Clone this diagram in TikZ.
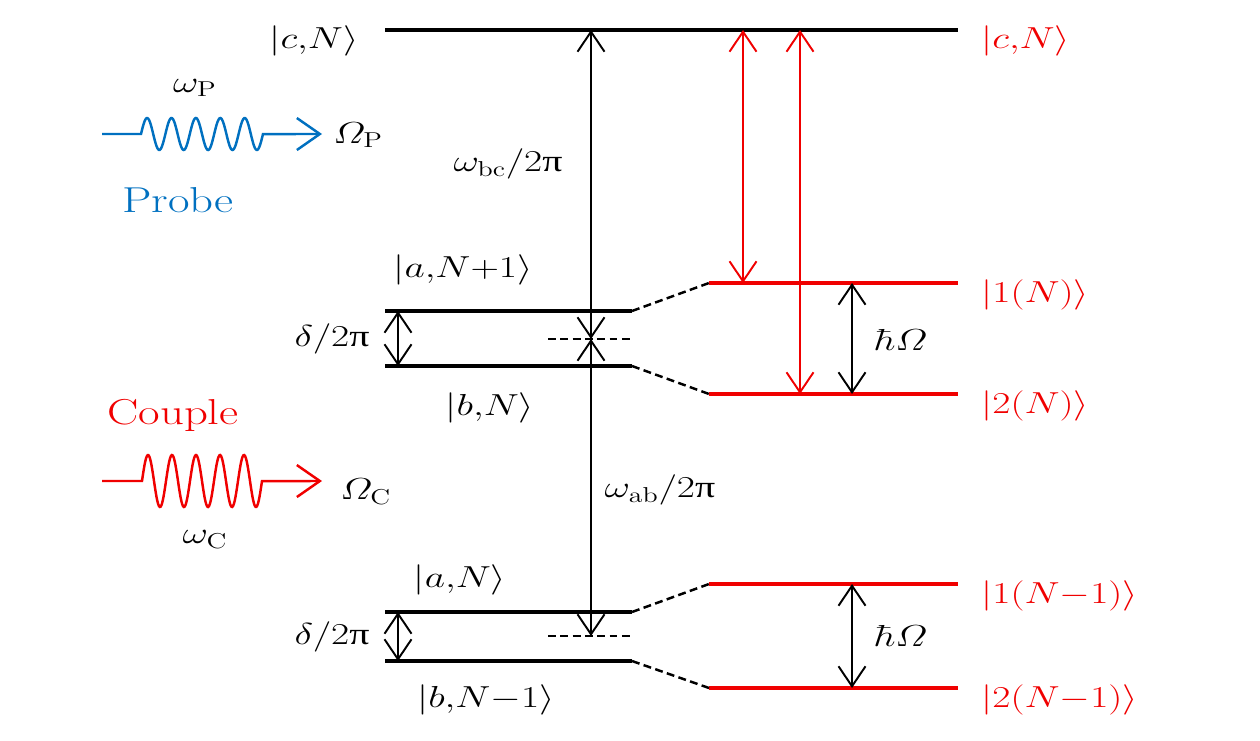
\documentclass[tikz,border=0pt]{standalone}
\usepackage{amsmath}
\usepackage{fontspec}
\newfontfamily\pifont{Liberation Serif}
\usetikzlibrary{arrows.meta}
\definecolor{probeblue}{RGB}{0,112,192}
\definecolor{levelred}{RGB}{240,0,0}
\newcommand{\upi}{\text{\pifont π}}
\begin{document}
\begin{tikzpicture}[x=0.02cm,y=-0.02cm,
  level/.style={line width=2.8pt},
  redlevel/.style={level,draw=levelred},
  link/.style={line width=1.4pt,dash pattern=on 4.5pt off 2.5pt},
  trans/.style={line width=1.1pt,<->,>={Straight Barb[length=4mm,width=5.4mm]}},
  wave/.style={line width=1.4pt,->,>={Straight Barb[length=4.6mm,width=6.4mm]}},
  lbl/.style={inner sep=0pt,font=\fontsize{17.5}{21}\selectfont,xscale=1.3,transform shape},
  fieldname/.style={lbl,font=\fontsize{20.5}{24}\selectfont}]
\useasboundingbox (0,0) rectangle (1260,740);
% level ends
\coordinate (cL) at (385,30);   \coordinate (cR) at (958,30);
\coordinate (aN1L) at (385,311); \coordinate (aN1R) at (632,311);
\coordinate (bNL) at (385,366);  \coordinate (bNR) at (632,366);
\coordinate (m1L) at (548,339);  \coordinate (m1R) at (632,339);
\coordinate (aNL) at (385,612);  \coordinate (aNR) at (632,612);
\coordinate (bN1L) at (385,661); \coordinate (bN1R) at (632,661);
\coordinate (m2L) at (548,636);  \coordinate (m2R) at (632,636);
\coordinate (p1L) at (709,283);  \coordinate (p1R) at (958,283);
\coordinate (p2L) at (709,394);  \coordinate (p2R) at (958,394);
\coordinate (q1L) at (709,584);  \coordinate (q1R) at (958,584);
\coordinate (q2L) at (709,688);  \coordinate (q2R) at (958,688);
% arrow columns
\coordinate (xw) at (591,0);  \coordinate (xd) at (398,0);
\coordinate (xh) at (852,0);  \coordinate (xr1) at (743,0);
\coordinate (xr2) at (800,0);
% levels
\draw[level] (cL) -- (cR);
\draw[level] (aN1L) -- (aN1R);
\draw[level] (bNL) -- (bNR);
\draw[level] (aNL) -- (aNR);
\draw[level] (bN1L) -- (bN1R);
\draw[redlevel] (p1L) -- (p1R);
\draw[redlevel] (p2L) -- (p2R);
\draw[redlevel] (q1L) -- (q1R);
\draw[redlevel] (q2L) -- (q2R);
\draw[link] (m1L) -- (m1R);
\draw[link] (m2L) -- (m2R);
\draw[link] (aN1R) -- (p1L);
\draw[link] (bNR) -- (p2L);
\draw[link] (aNR) -- (q1L);
\draw[link] (bN1R) -- (q2L);
% transitions
\draw[trans] (xw |- cL) -- (xw |- m1L);
\draw[trans] (xw |- m1L) -- (xw |- m2L);
\draw[trans] (xd |- aN1L) -- (xd |- bNL);
\draw[trans] (xd |- aNL) -- (xd |- bN1L);
\draw[trans] (xh |- p1L) -- (xh |- p2L);
\draw[trans] (xh |- q1L) -- (xh |- q2L);
\draw[trans,levelred] (xr1 |- cL) -- (xr1 |- p1L);
\draw[trans,levelred] (xr2 |- cL) -- (xr2 |- p2L);
% labels
\node[lbl] (lcN) at (314,41) {$|c{,}N\rangle$};
\node[lbl,text=levelred,anchor=west] (rcN) at (981,41) {$|c{,}N\rangle$};
\node[lbl] (wbc) at (508,164) {$\omega_{\mathrm{bc}}/2\upi$};
\node[lbl] (laN1) at (463,270) {$|a{,}N{+}1\rangle$};
\node[lbl] (del1) at (332,339) {$\delta/2\upi$};
\node[lbl] (lbN) at (490,408) {$|b{,}N\rangle$};
\node[lbl] (wab) at (660,490) {$\omega_{\mathrm{ab}}/2\upi$};
\node[lbl] (laN) at (460,580) {$|a{,}N\rangle$};
\node[lbl] (del2) at (332,637) {$\delta/2\upi$};
\node[lbl] (lbN1) at (486,700) {$|b{,}N{-}1\rangle$};
\node[lbl,text=levelred,anchor=west] (l1N) at (981,295) {$|1(N)\rangle$};
\node[lbl,text=levelred,anchor=west] (l2N) at (981,406) {$|2(N)\rangle$};
\node[lbl,text=levelred,anchor=west] (l1N1) at (981,596) {$|1(N{-}1)\rangle$};
\node[lbl,text=levelred,anchor=west] (l2N1) at (981,700) {$|2(N{-}1)\rangle$};
\node[lbl] (hO1) at (901,340) {$\hbar\varOmega$};
\node[lbl] (hO2) at (901,636) {$\hbar\varOmega$};
% probe field
\node[lbl] (wP) at (195,88) {$\omega_{\mathrm{P}}$};
\node[lbl,anchor=west] (OP) at (333,135) {$\varOmega_{\mathrm{P}}$};
\node[fieldname,text=probeblue] (probe) at (178,200) {Probe};
\coordinate (ps) at (102,134); \coordinate (pe) at (322,134);
\draw[wave,probeblue] (ps) -- (141,134) -- plot[domain=0:5,samples=150,smooth] ({141+24.4*\x},{134-16*sin(360*\x)}) -- (pe);
% couple field
\node[fieldname,text=levelred] (couple) at (173,415) {Couple};
\node[lbl,anchor=west] (OC) at (340,492) {$\varOmega_{\mathrm{C}}$};
\node[lbl] (wC) at (205,540) {$\omega_{\mathrm{C}}$};
\coordinate (cs) at (102,481); \coordinate (ce) at (322,481);
\draw[wave,levelred] (cs) -- (142,481) -- plot[domain=0:5,samples=150,smooth] ({142+24*\x},{481-26*sin(360*\x)}) -- (ce);
\end{tikzpicture}
\end{document}
